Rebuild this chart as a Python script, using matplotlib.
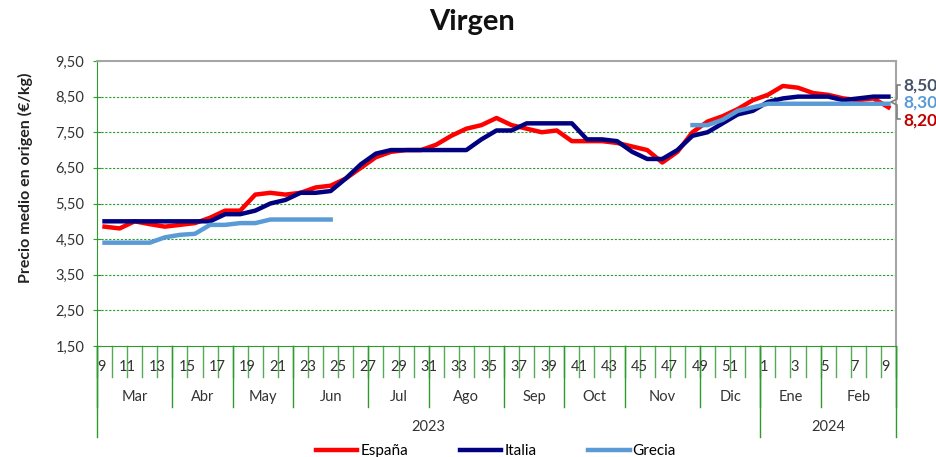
import matplotlib.pyplot as plt
from matplotlib.lines import Line2D
import matplotlib.transforms as mtransforms

plt.rcParams['font.family'] = ['Lato', 'DejaVu Sans']

# semanas: 9..52 de 2023 y 1..9 de 2024
weeks = list(range(9, 53)) + list(range(1, 10))

espana = [4.85, 4.80, 5.00, 4.92, 4.85, 4.90, 4.95, 5.10, 5.30, 5.30,
          5.75, 5.80, 5.75, 5.80, 5.95, 6.00, 6.20, 6.50, 6.80, 6.95,
          7.00, 7.00, 7.15, 7.40, 7.60, 7.70, 7.90, 7.70, 7.60, 7.50,
          7.55, 7.25, 7.25, 7.25, 7.20, 7.10, 7.00, 6.65, 6.95, 7.50,
          7.80, 7.95, 8.15, 8.40, 8.55, 8.80, 8.75, 8.60, 8.55, 8.45,
          8.40, 8.45, 8.20]

italia = [5.00, 5.00, 5.00, 5.00, 5.00, 5.00, 5.00, 5.00, 5.20, 5.20,
          5.30, 5.50, 5.60, 5.80, 5.80, 5.85, 6.20, 6.60, 6.90, 7.00,
          7.00, 7.00, 7.00, 7.00, 7.00, 7.30, 7.55, 7.55, 7.75, 7.75,
          7.75, 7.75, 7.30, 7.30, 7.25, 6.95, 6.75, 6.75, 7.00, 7.40,
          7.50, 7.75, 8.00, 8.10, 8.35, 8.45, 8.50, 8.50, 8.50, 8.40,
          8.45, 8.50, 8.50]

N = None
grecia = [4.40, 4.40, 4.40, 4.40, 4.55, 4.62, 4.65, 4.90, 4.90, 4.95,
          4.95, 5.05, 5.05, 5.05, 5.05, 5.05, N, N, N, N,
          N, N, N, N, N, N, N, N, N, N,
          N, N, N, N, N, N, N, N, N, 7.70,
          7.70, 7.85, 8.10, 8.20, 8.30, 8.30, 8.30, 8.30, 8.30, 8.30,
          8.30, 8.30, 8.30]

months = ['Mar', 'Abr', 'May', 'Jun', 'Jul', 'Ago', 'Sep', 'Oct', 'Nov',
          'Dic', 'Ene', 'Feb']
month_weeks = [5, 4, 4, 5, 4, 5, 4, 4, 5, 4, 4, 5]
years = ['2023', '2024']
year_weeks = [44, 9]

last_labels = ['8,50', '8,30', '8,20']
last_colors = ['#44546A', '#5B9BD5', '#C00000']

fig = plt.figure(figsize=(9.36, 4.57), dpi=100)
ax = fig.add_axes([97 / 936, 1 - 346 / 457, 799 / 936, 285 / 457])

x = list(range(len(weeks)))
gr = [float('nan') if v is None else v for v in grecia]
ax.plot(x, espana, color='#FF0000', lw=3.2, label='España', solid_joinstyle='round')
ax.plot(x, italia, color='#000080', lw=3.2, label='Italia', solid_joinstyle='round')
ax.plot(x, gr, color='#5B9BD5', lw=3.2, label='Grecia', solid_joinstyle='round')

ax.set_xlim(-0.5, len(weeks) - 0.5)
ax.set_ylim(1.5, 9.5)
yt = [1.5 + i for i in range(9)]
ax.set_yticks(yt)
ax.set_yticklabels([f'{v:.2f}'.replace('.', ',') for v in yt], fontsize=10.5, color='#333333')
for v in yt[1:-1]:
    ax.axhline(v, color='#2E9B2E', lw=0.8, ls=(0, (2, 1.5)), zorder=0)
ax.tick_params(axis='y', direction='inout', length=6, color='#2E9B2E', pad=6)
ax.set_xticks([])

for s in ['top', 'right']:
    ax.spines[s].set_color('#A6A6A6')
    ax.spines[s].set_linewidth(1.5)
for s in ['left', 'bottom']:
    ax.spines[s].set_color('#2E9B2E')


def fy(py):
    return 1 - py / 457


# eje x de varios niveles
trans = mtransforms.blended_transform_factory(ax.transData, fig.transFigure)

for k in range(len(weeks) + 1):
    ax.add_line(Line2D([k - 0.5, k - 0.5], [fy(346), fy(377)], transform=trans,
                       color='#55AA55', lw=1, clip_on=False))
for i, w in enumerate(weeks):
    if w % 2 == 1:
        ax.text(i + 0.05, fy(367), str(w), transform=trans, ha='right', va='center',
                fontsize=10.5, color='#333333')

pos = 0
bounds = [0]
for m, n in zip(months, month_weeks):
    ax.text(pos + n / 2 - 0.5, fy(397), m, transform=trans, ha='center', va='center',
            fontsize=10.5, color='#333333')
    pos += n
    bounds.append(pos)
for b in bounds:
    ax.add_line(Line2D([b - 0.5, b - 0.5], [fy(346), fy(407)], transform=trans,
                       color='#2E9B2E', lw=1, clip_on=False))

pos = 0
ybounds = [0]
for yname, n in zip(years, year_weeks):
    ax.text(pos + n / 2 - 0.5, fy(427), yname, transform=trans, ha='center', va='center',
            fontsize=10.5, color='#333333')
    pos += n
    ybounds.append(pos)
for b in ybounds:
    ax.add_line(Line2D([b - 0.5, b - 0.5], [fy(346), fy(437)], transform=trans,
                       color='#2E9B2E', lw=1, clip_on=False))

fig.text(25 / 936, fy(178), 'Precio medio en origen (€/kg)', rotation=90,
         ha='center', va='center', fontsize=11.5, fontweight='bold', color='#222222')

fig.text(472 / 936, fy(22), 'Virgen', ha='center', va='center', fontsize=21,
         fontweight='bold', color='#111111')

# etiquetas del último valor
for lab, col, py in zip(last_labels, last_colors, [86, 103, 121]):
    fig.text(903 / 936, fy(py), lab, ha='left', va='center', fontsize=12.5,
             fontweight='bold', color=col)
bx = [900, 897, 897, 891, 897, 897, 900]
by = [85, 85, 99, 102, 105, 119, 119]
fig.add_artist(Line2D([v / 936 for v in bx], [fy(v) for v in by], color='#7F7F7F',
                      lw=1.2, transform=fig.transFigure))

fig.legend(loc='center', bbox_to_anchor=(496 / 936, fy(451)), ncol=3, frameon=False,
           fontsize=11, handlelength=2.7, handletextpad=0.2, columnspacing=3.4)

fig.savefig('out.png', dpi=100)
